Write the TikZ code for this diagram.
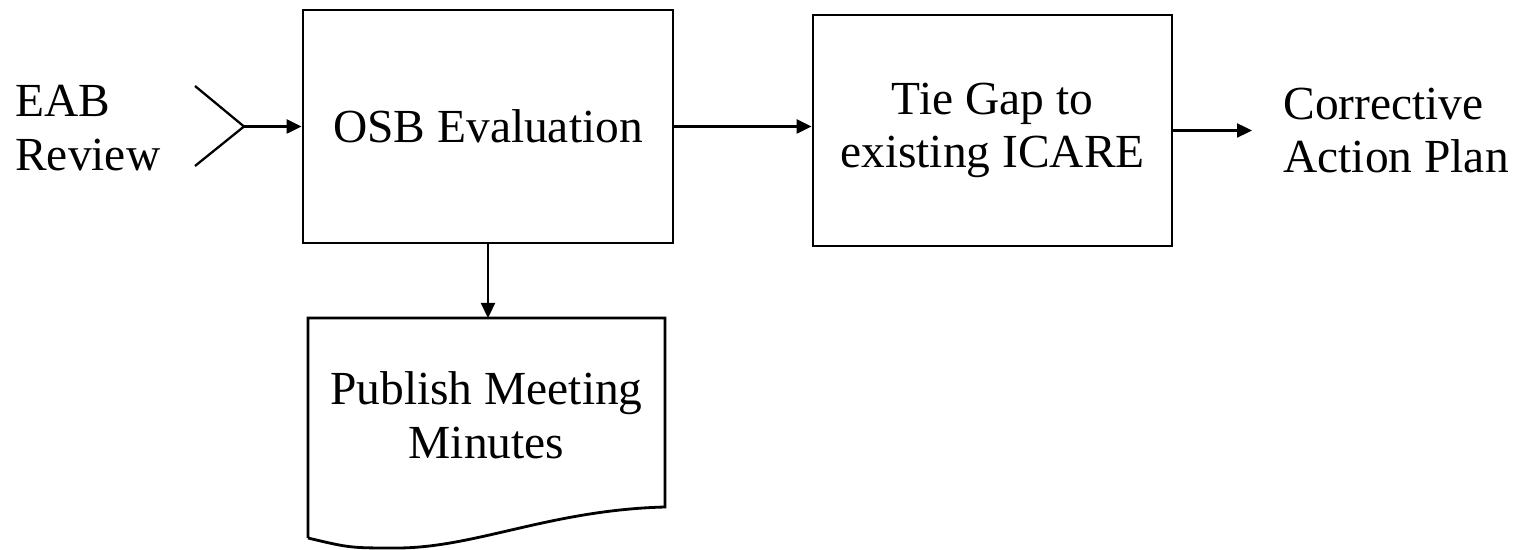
\documentclass[tikz,border=0pt]{standalone}
\usepackage{fontspec}
\setmainfont{Liberation Serif}
\usetikzlibrary{positioning,arrows.meta}

\begin{document}
\begin{tikzpicture}[
  stage/.style={draw, line width=1.6pt, minimum width=7.4cm, minimum height=4.66cm, align=center, font=\fontsize{27}{30.5}\selectfont},
  plain/.style={inner sep=0pt, align=left, font=\fontsize{27}{30.5}\selectfont},
  flow/.style={-{Triangle[length=0.3cm,width=0.28cm]}, line width=1.3pt}
]
  \useasboundingbox (0,0) rectangle (30.4,11);

  % Process boxes
  \node[stage] (osb) at (9.76,8.47) {OSB Evaluation};
  \node[stage, minimum width=7.18cm, minimum height=4.62cm]
    (tie) at (19.85,8.39) {Tie Gap to\\existing ICARE};

  % Loose texts at both ends
  \node[plain, anchor=west] (eab) at (0.3,8.44) {EAB\\Review};
  \node[plain, anchor=west] (cap) at (25.66,8.39) {Corrective\\Action Plan};

  % Incoming chevron
  \coordinate (tip) at (4.88,8.47);
  \draw[line width=1.3pt] (3.9,9.28) -- (tip) -- (3.9,7.68);

  % Document shape
  \node[plain, align=center] (minutes) at (9.73,2.7) {Publish Meeting\\Minutes};
  \coordinate (doctop) at (9.76,4.64);
  \draw[line width=1.6pt] (6.16,0.24) -- (6.16,4.64) -- (13.3,4.64) -- (13.3,0.86)
    .. controls (11.0,0.8) and (9.5,0.04) .. (7.94,0.04)
    .. controls (7.0,0.04) .. (6.16,0.24);

  % Connectors
  \draw[flow] (tip) -- (osb.west);
  \draw[flow] (osb.east) -- (osb.east -| tie.west);
  \draw[flow] (tie.east) -- ([xshift=-0.62cm]cap.west);
  \draw[flow] (osb.south) -- (doctop);
\end{tikzpicture}
\end{document}
